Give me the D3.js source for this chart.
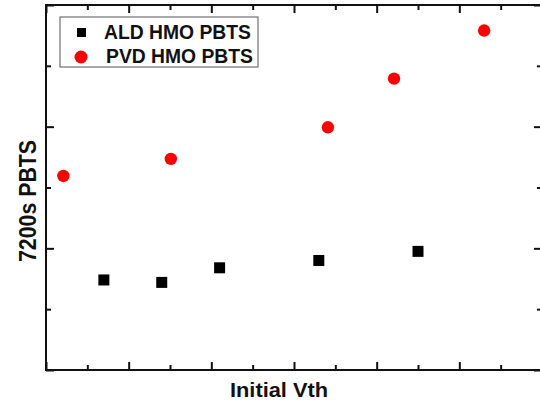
<!DOCTYPE html>
<html lang="en">
<head>
<meta charset="UTF-8">
<title>7200s PBTS vs Initial Vth</title>
<script src="https://d3js.org/d3.v7.min.js"></script>
<style>
    body { margin: 0; background: #fff; }
    text { font-family: "Liberation Sans", Arial, sans-serif; font-weight: bold; fill: #111; }
</style>
</head>
<body>
<svg id="chart" width="540" height="402"></svg>
<script>
    // values (arbitrary units, no tick labels shown)
    const aldX = [0.70, 1.40, 2.10, 3.30, 4.50];
    const aldY = [1.48, 1.44, 1.68, 1.80, 1.95];
    const pvdX = [0.21, 1.51, 3.41, 4.21, 5.30];
    const pvdY = [3.19, 3.47, 3.99, 4.79, 5.58];
    const seriesNames = ["ALD HMO PBTS", "PVD HMO PBTS"];
    const xTitle = "Initial Vth";
    const yTitle = "7200s PBTS";

    const svg = d3.select("#chart");
    const margin = {top: 5, right: -2, bottom: 32, left: 46};
    const width = 540 - margin.left - margin.right;
    const height = 402 - margin.top - margin.bottom;

    const x = d3.scaleLinear().domain([0, 6]).range([0, width]);
    const y = d3.scaleLinear().domain([0, 6]).range([height, 0]);

    const g = svg.append("g")
        .attr("transform", `translate(${margin.left},${margin.top})`);

    const majorX = d3.range(0, 7, 1), minorX = d3.range(0.5, 6, 1);
    const majorY = d3.range(0, 7, 2), minorY = d3.range(1, 6, 2);

    // inward ticks on all four sides
    const axes = [
        [() => d3.axisTop(x), `translate(0,${height})`, majorX, minorX],
        [() => d3.axisBottom(x), "translate(0,0)", majorX, minorX],
        [() => d3.axisRight(y), "translate(0,0)", majorY, minorY],
        [() => d3.axisLeft(y), `translate(${width},0)`, majorY, minorY]
    ];
    axes.forEach(([mk, tr, maj, min]) => {
        [[maj, 8], [min, 5]].forEach(([vals, len]) => {
            const a = g.append("g").attr("transform", tr)
                .call(mk().tickValues(vals).tickSize(len).tickFormat(""));
            a.select(".domain").remove();
            a.selectAll("line").attr("stroke", "#111").attr("stroke-width", 2);
        });
    });

    g.append("rect")
        .attr("width", width).attr("height", height)
        .attr("fill", "none").attr("stroke", "#111").attr("stroke-width", 2);

    // data
    const sq = 11;
    g.selectAll(".ald")
        .data(aldX.map((d, i) => [d, aldY[i]]))
        .enter().append("rect")
        .attr("x", d => x(d[0]) - sq / 2)
        .attr("y", d => y(d[1]) - sq / 2)
        .attr("width", sq).attr("height", sq)
        .attr("fill", "#000");

    g.selectAll(".pvd")
        .data(pvdX.map((d, i) => [d, pvdY[i]]))
        .enter().append("circle")
        .attr("cx", d => x(d[0]))
        .attr("cy", d => y(d[1]))
        .attr("r", 6.2)
        .attr("fill", "#ff0000");

    // legend
    const lg = svg.append("g").attr("transform", "translate(60,17)");
    lg.append("rect").attr("width", 198).attr("height", 50)
        .attr("fill", "#fff").attr("stroke", "#555").attr("stroke-width", 1);
    lg.append("rect").attr("x", 17).attr("y", 11).attr("width", 9).attr("height", 9).attr("fill", "#000");
    lg.append("circle").attr("cx", 21).attr("cy", 40).attr("r", 6.5).attr("fill", "#ff0000");
    seriesNames.forEach((s, i) => {
        lg.append("text")
            .attr("x", 44 + i * 2).attr("y", 22 + i * 24)
            .attr("font-size", 19.5)
            .attr("textLength", 147).attr("lengthAdjust", "spacingAndGlyphs")
            .text(s);
    });

    // axis titles
    svg.append("text")
        .attr("x", 279).attr("y", 397)
        .attr("text-anchor", "middle")
        .attr("font-size", 20)
        .attr("textLength", 98).attr("lengthAdjust", "spacingAndGlyphs")
        .text(xTitle);

    svg.append("text")
        .attr("transform", "translate(36,201) rotate(-90)")
        .attr("text-anchor", "middle")
        .attr("font-size", 24)
        .attr("textLength", 122).attr("lengthAdjust", "spacingAndGlyphs")
        .text(yTitle);
</script>
</body>
</html>
